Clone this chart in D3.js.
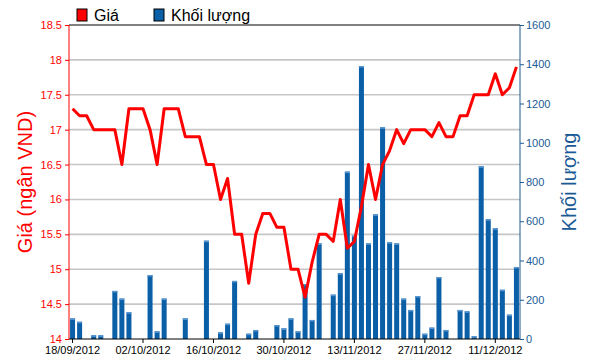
<!DOCTYPE html>
<html>
<head>
<meta charset="utf-8">
<script src="https://cdn.jsdelivr.net/npm/d3@7"></script>
<style>
  body { margin: 0; background: #fff; }
  svg { display: block; font-family: "Liberation Sans", Arial, sans-serif; }
</style>
</head>
<body>
<div id="chart-area"></div>
<script>
// trading days (categories)
const dates = [
  "18/09/2012","19/09/2012","20/09/2012","21/09/2012","24/09/2012","25/09/2012","26/09/2012","27/09/2012","28/09/2012",
  "01/10/2012","02/10/2012","03/10/2012","04/10/2012","05/10/2012","08/10/2012","09/10/2012","10/10/2012","11/10/2012","12/10/2012",
  "15/10/2012","16/10/2012","17/10/2012","18/10/2012","19/10/2012","22/10/2012","23/10/2012","24/10/2012","25/10/2012","26/10/2012",
  "29/10/2012","30/10/2012","31/10/2012","01/11/2012","02/11/2012","05/11/2012","06/11/2012","07/11/2012","08/11/2012","09/11/2012",
  "12/11/2012","13/11/2012","14/11/2012","15/11/2012","16/11/2012","19/11/2012","20/11/2012","21/11/2012","22/11/2012","23/11/2012",
  "26/11/2012","27/11/2012","28/11/2012","29/11/2012","30/11/2012","03/12/2012","04/12/2012","05/12/2012","06/12/2012","07/12/2012",
  "10/12/2012","11/12/2012","12/12/2012","13/12/2012","14/12/2012"
];

// price (thousand VND)
const prices = [
  17.3, 17.2, 17.2, 17.0, 17.0, 17.0, 17.0, 16.5, 17.3,
  17.3, 17.3, 17.0, 16.5, 17.3, 17.3, 17.3, 16.9, 16.9, 16.9,
  16.5, 16.5, 16.0, 16.3, 15.5, 15.5, 14.8, 15.5, 15.8, 15.8,
  15.6, 15.6, 15.0, 15.0, 14.6, 15.1, 15.5, 15.5, 15.4, 16.0,
  15.3, 15.4, 15.9, 16.5, 16.0, 16.5, 16.7, 17.0, 16.8, 17.0,
  17.0, 17.0, 16.9, 17.1, 16.9, 16.9, 17.2, 17.2, 17.5, 17.5,
  17.5, 17.8, 17.5, 17.6, 17.9
];

// volume
const volumes = [
  105, 88, 0, 19, 19, 0, 245, 206, 136,
  0, 0, 326, 39, 206, 0, 0, 105, 0, 0,
  501, 0, 34, 78, 296, 0, 27, 46, 0, 0,
  71, 54, 105, 39, 280, 97, 487, 0, 226, 335,
  853, 527, 1391, 487, 635, 1079, 493, 487, 206, 148,
  219, 27, 58, 316, 46, 0, 148, 141, 14, 880,
  610, 564, 251, 124, 367
];

const priceTicks = [14, 14.5, 15, 15.5, 16, 16.5, 17, 17.5, 18, 18.5];
const volumeTicks = [0, 200, 400, 600, 800, 1000, 1200, 1400, 1600];
const dateTicks = ["18/09/2012","02/10/2012","16/10/2012","30/10/2012","13/11/2012","27/11/2012","11/12/2012"];

const canvasWidth = 594;
const canvasHeight = 363;
const margin = { top: 25, bottom: 24, left: 69, right: 74 };
const w = canvasWidth - margin.left - margin.right;
const h = canvasHeight - margin.top - margin.bottom;

const red = "#ff0000";
const blue = "#0b5fa6";
const blueText = "#1a5b96";

const svg = d3.select("#chart-area")
  .append("svg")
    .attr("width", canvasWidth)
    .attr("height", canvasHeight);

const g = svg.append("g")
  .attr("transform", `translate(${margin.left}, ${margin.top})`);

// scales
const x = d3.scaleBand()
  .domain(dates)
  .range([0, w])
  .paddingInner(0.29)
  .paddingOuter(0.15);

const yPrice = d3.scaleLinear()
  .domain([14, 18.5])
  .range([h, 0]);

const yVol = d3.scaleLinear()
  .domain([0, 1600])
  .range([h, 0]);

const cx = (d) => x(d) + x.bandwidth() / 2;

// grid lines
g.append("g")
  .selectAll("line")
  .data(priceTicks.filter((t) => t > 14 && t < 18.5))
  .enter().append("line")
    .attr("x1", 0)
    .attr("x2", w)
    .attr("y1", (d) => yPrice(d))
    .attr("y2", (d) => yPrice(d))
    .attr("stroke", "#c6c6c6")
    .attr("stroke-width", 1.6);

// top border
g.append("line")
  .attr("x1", 0).attr("x2", w)
  .attr("y1", 0).attr("y2", 0)
  .attr("stroke", "#000")
  .attr("stroke-width", 1);

// volume bars
const bars = g.append("g")
  .selectAll("g")
  .data(dates.map((d, i) => ({ date: d, vol: volumes[i] })).filter((d) => d.vol > 0))
  .enter().append("g");

bars.append("rect")
  .attr("x", (d) => x(d.date))
  .attr("y", (d) => yVol(d.vol))
  .attr("width", x.bandwidth())
  .attr("height", (d) => h - yVol(d.vol))
  .attr("fill", blue);

bars.append("rect")
  .attr("x", (d) => x(d.date))
  .attr("y", (d) => yVol(d.vol))
  .attr("width", x.bandwidth())
  .attr("height", (d) => Math.min(1.5, h - yVol(d.vol)))
  .attr("fill", "#5a97d2");

// price line
const line = d3.line()
  .x((d, i) => cx(dates[i]))
  .y((d) => yPrice(d));

g.append("path")
  .datum(prices)
  .attr("fill", "none")
  .attr("stroke", red)
  .attr("stroke-width", 3)
  .attr("stroke-linejoin", "round")
  .attr("d", line);

// left axis
const yAxisLeft = d3.axisLeft(yPrice)
  .tickValues(priceTicks)
  .tickSize(4)
  .tickPadding(3)
  .tickFormat((d) => +d);

const leftAxis = g.append("g")
  .attr("class", "y axis")
  .call(yAxisLeft);
leftAxis.select(".domain").attr("stroke", red).attr("d", `M0,0V${h}`);
leftAxis.selectAll(".tick line").attr("stroke", red);
leftAxis.selectAll("text").attr("fill", red).attr("font-size", "11px")
  .attr("font-family", "'Liberation Sans', Arial, sans-serif");

// right axis
const yAxisRight = d3.axisRight(yVol)
  .tickValues(volumeTicks)
  .tickSize(4)
  .tickPadding(2)
  .tickFormat(d3.format("d"));

const rightAxis = g.append("g")
  .attr("class", "y axis right")
  .attr("transform", `translate(${w},0)`)
  .call(yAxisRight);
rightAxis.select(".domain").attr("stroke", blueText).attr("d", `M0,0V${h}`);
rightAxis.selectAll(".tick line").attr("stroke", blueText);
rightAxis.selectAll("text").attr("fill", blueText).attr("font-size", "11px")
  .attr("font-family", "'Liberation Sans', Arial, sans-serif");

// bottom axis
const xAxis = d3.axisBottom(x)
  .tickValues(dateTicks)
  .tickSize(4)
  .tickPadding(3);

const bottomAxis = g.append("g")
  .attr("class", "x axis")
  .attr("transform", `translate(0,${h})`)
  .call(xAxis);
bottomAxis.select(".domain").attr("stroke", "#000").attr("d", `M0,0H${w}`);
bottomAxis.selectAll(".tick line").attr("stroke", "#000");
bottomAxis.selectAll("text").attr("fill", "#000").attr("font-size", "11px")
  .attr("font-family", "'Liberation Sans', Arial, sans-serif");

// axis titles
g.append("text")
  .attr("transform", `translate(${-42}, ${h / 2}) rotate(-90)`)
  .attr("text-anchor", "middle")
  .attr("dominant-baseline", "middle")
  .attr("font-size", "20px")
  .attr("fill", red)
  .text("Giá (ngân VND)");

g.append("text")
  .attr("transform", `translate(${w + 51}, ${h / 2}) rotate(-90)`)
  .attr("text-anchor", "middle")
  .attr("dominant-baseline", "middle")
  .attr("font-size", "20px")
  .attr("fill", blueText)
  .text("Khối lượng");

// legend
const legendItems = [
  { label: "Giá", color: red, x: 77 },
  { label: "Khối lượng", color: blue, x: 154 }
];

const legend = svg.append("g")
  .selectAll("g")
  .data(legendItems)
  .enter().append("g")
    .attr("transform", (d) => `translate(${d.x}, 9)`);

legend.append("rect")
  .attr("width", 10)
  .attr("height", 12)
  .attr("fill", (d) => d.color)
  .attr("stroke", "#000")
  .attr("stroke-width", 1);

legend.append("text")
  .attr("x", 17)
  .attr("y", 12)
  .attr("font-size", "16px")
  .attr("fill", "#000")
  .text((d) => d.label);
</script>
</body>
</html>
